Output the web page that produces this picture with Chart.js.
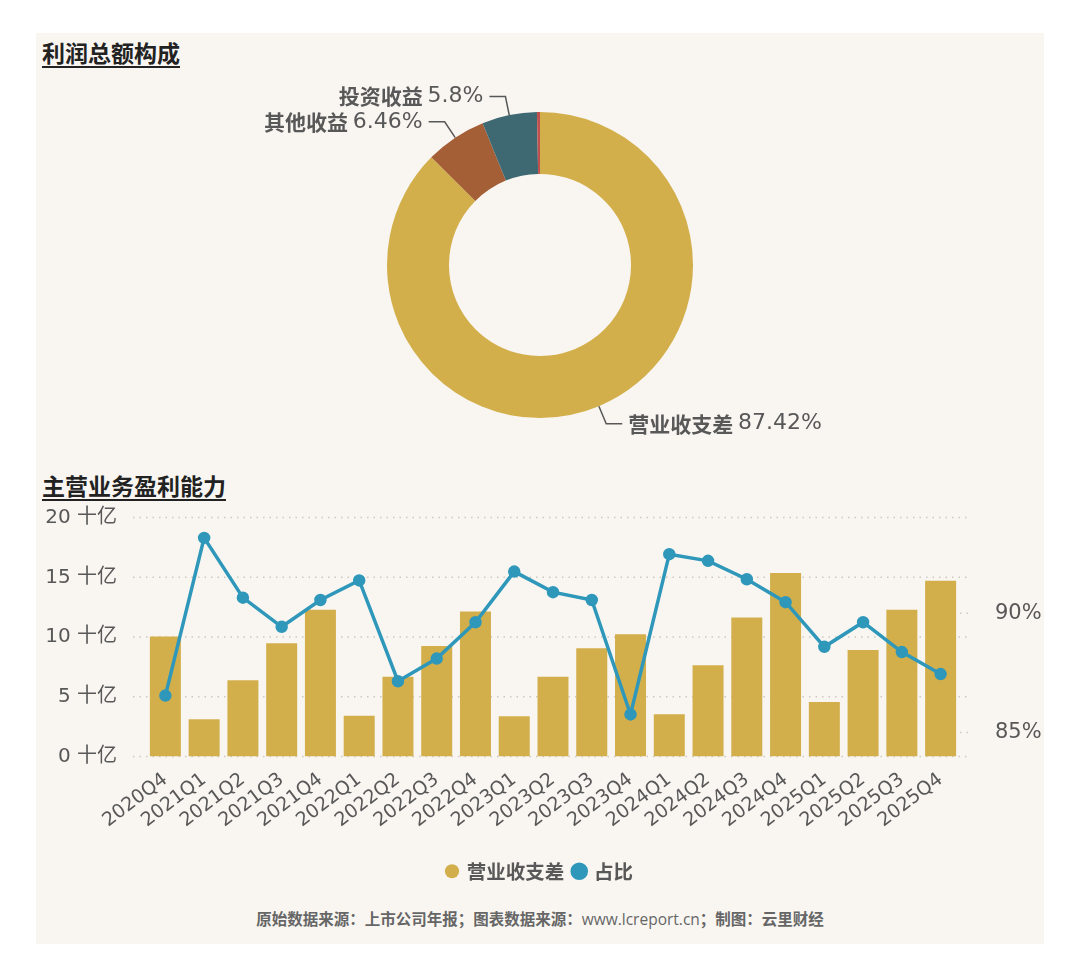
<!DOCTYPE html>
<html>
<head>
<meta charset="utf-8">
<script src="https://cdn.jsdelivr.net/npm/chart.js@4.4.1/dist/chart.umd.min.js"></script>
<style>
  body { margin: 0; background: #fff; width: 1080px; height: 978px; position: relative; overflow: hidden; }
  #panel { position: absolute; left: 36px; top: 33px; width: 1008px; height: 911px; background: #f9f6f2; }
  .title { position: absolute; left: 6px; font: bold 23px "Noto Sans CJK SC"; line-height: 30px; color: #222;
           text-decoration: underline; text-underline-offset: 4px; text-decoration-thickness: 2px; }
  canvas { position: absolute; left: 0; }
  #foot { position: absolute; left: 0; width: 1008px; top: 874px; text-align: center; line-height: 22px;
          font: bold 15.5px "Noto Sans CJK SC"; color: #666; }
  #foot span { font-weight: normal; font-family: "Open Sans", sans-serif; }
</style>
</head>
<body>
<div id="panel">
  <div class="title" style="top:4px">利润总额构成</div>
  <canvas id="pie" width="1008" height="390" style="top:37px"></canvas>
  <div class="title" style="top:437px">主营业务盈利能力</div>
  <canvas id="combo" width="1008" height="413" style="top:445px"></canvas>
  <div id="foot">原始数据来源：上市公司年报；图表数据来源：<span>www.lcreport.cn</span>；制图：云里财经</div>
</div>
<script>
// 利润总额构成 (%)
const shareNames = ["营业收支差", "其他收益", "投资收益", "其他"];
const shareValues = [87.42, 6.46, 5.8, 0.32];
const shareColors = ["#d3af4c", "#a45f36", "#3e6872", "#c0504d"];

// 主营业务盈利能力
const quarters = ["2020Q4", "2021Q1", "2021Q2", "2021Q3", "2021Q4", "2022Q1", "2022Q2",
  "2022Q3", "2022Q4", "2023Q1", "2023Q2", "2023Q3", "2023Q4", "2024Q1", "2024Q2",
  "2024Q3", "2024Q4", "2025Q1", "2025Q2", "2025Q3", "2025Q4"];
const revenueGap = [10.04, 3.11, 6.39, 9.48, 12.28, 3.42, 6.67, 9.26, 12.14, 3.37, 6.67,
  9.06, 10.24, 3.53, 7.63, 11.64, 15.37, 4.57, 8.92, 12.28, 14.72]; // 十亿
const gapRatio = [86.55, 93.15, 90.65, 89.43, 90.55, 91.37, 87.15, 88.1, 89.62, 91.74, 90.88,
  90.55, 85.76, 92.47, 92.19, 91.42, 90.46, 88.59, 89.62, 88.37, 87.45]; // %
const gapTicks = [0, 5, 10, 15, 20];
const ratioTicks = [85, 90];

const FONT = '"DejaVu Sans", "Noto Sans CJK SC", sans-serif';
const TEXT = "#585858";
Chart.defaults.font.family = FONT;
Chart.defaults.color = TEXT;

// leader-line labels around the doughnut
const pieLabels = {
  id: "pieLabels",
  afterDatasetsDraw(chart) {
    const ctx = chart.ctx;
    chart.getDatasetMeta(0).data.forEach((arc, i) => {
      if (shareValues[i] < 1) return;
      const p = arc.getProps(["x", "y", "startAngle", "endAngle", "outerRadius"]);
      const a = (p.startAngle + p.endAngle) / 2;
      const c = Math.cos(a), s = Math.sin(a);
      const x0 = p.x + c * p.outerRadius, y0 = p.y + s * p.outerRadius;
      const x1 = p.x + c * (p.outerRadius + 19), y1 = p.y + s * (p.outerRadius + 19);
      const dir = c >= 0 ? 1 : -1;
      const x2 = x1 + dir * 16;
      ctx.save();
      ctx.strokeStyle = TEXT;
      ctx.lineWidth = 1.5;
      ctx.beginPath();
      ctx.moveTo(x0, y0);
      ctx.lineTo(x1, y1);
      ctx.lineTo(x2, y1);
      ctx.stroke();
      ctx.fillStyle = TEXT;
      ctx.textBaseline = "middle";
      const name = shareNames[i] + " ";
      const val = shareValues[i] + "%";
      const nameFont = 'bold 21px "Noto Sans CJK SC"';
      const valFont = "22px " + FONT;
      ctx.font = nameFont;
      const wName = ctx.measureText(name).width;
      ctx.font = valFont;
      const wVal = ctx.measureText(val).width;
      const start = dir > 0 ? x2 + 6 : x2 - 6 - wName - wVal;
      ctx.textAlign = "left";
      ctx.font = nameFont;
      ctx.fillText(name, start, y1);
      ctx.font = valFont;
      ctx.fillText(val, start + wName, y1);
      ctx.restore();
    });
  }
};

new Chart(document.getElementById("pie"), {
  type: "doughnut",
  data: {
    labels: shareNames,
    datasets: [{ data: shareValues, backgroundColor: shareColors, borderWidth: 0 }]
  },
  options: {
    responsive: false,
    animation: false,
    cutout: "59.5%",
    layout: { padding: { top: 42, bottom: 42 } },
    plugins: { legend: { display: false }, tooltip: { enabled: false } }
  },
  plugins: [pieLabels]
});

// dotted grid that runs a little past the plot area
const dottedGrid = {
  id: "dottedGrid",
  beforeDatasetsDraw(chart) {
    const { ctx, chartArea: a, scales } = chart;
    ctx.save();
    ctx.strokeStyle = "#cdc8c0";
    ctx.lineWidth = 1.5;
    ctx.setLineDash([1.5, 5]);
    const line = (x0, x1, y) => { ctx.beginPath(); ctx.moveTo(x0, y); ctx.lineTo(x1, y); ctx.stroke(); };
    scales.y.ticks.forEach(t => line(a.left - 13, a.right + 11, scales.y.getPixelForValue(t.value)));
    scales.y1.ticks.forEach(t => line(a.right, a.right + 11, scales.y1.getPixelForValue(t.value)));
    ctx.restore();
  }
};

new Chart(document.getElementById("combo"), {
  type: "bar",
  data: {
    labels: quarters,
    datasets: [
      {
        type: "bar",
        label: "营业收支差",
        data: revenueGap,
        yAxisID: "y",
        backgroundColor: "#d3af4c",
        categoryPercentage: 1,
        barPercentage: 0.8,
        order: 1
      },
      {
        type: "line",
        label: "占比",
        data: gapRatio,
        yAxisID: "y1",
        borderColor: "#2f98ba",
        backgroundColor: "#2f98ba",
        borderWidth: 3.5,
        pointRadius: 4.5,
        tension: 0,
        order: 0
      }
    ]
  },
  options: {
    responsive: false,
    animation: false,
    layout: { padding: 0 },
    scales: {
      x: {
        grid: { display: false },
        border: { display: false },
        ticks: { autoSkip: false, minRotation: 37, maxRotation: 37, padding: 4, font: { size: 19 } },
        afterFit(s) { s.height = 95; }
      },
      y: {
        position: "left",
        min: 0,
        max: 20,
        afterBuildTicks(s) { s.ticks = gapTicks.map(v => ({ value: v })); },
        grid: { display: false },
        border: { display: false },
        ticks: { padding: 21, font: { size: 20 }, callback: v => v + " 十亿" },
        afterFit(s) { s.width = 110; }
      },
      y1: {
        position: "right",
        min: 84,
        max: 94,
        afterBuildTicks(s) { s.ticks = ratioTicks.map(v => ({ value: v })); },
        grid: { display: false },
        border: { display: false },
        ticks: { padding: 27, font: { size: 21 }, callback: v => v + "%" },
        afterFit(s) { s.width = 84; }
      }
    },
    plugins: {
      tooltip: { enabled: false },
      legend: {
        position: "bottom",
        labels: {
          usePointStyle: true,
          boxWidth: 10,
          boxHeight: 10,
          padding: 10,
          color: TEXT,
          font: { size: 19.5, weight: "bold", family: '"Noto Sans CJK SC"' },
          sort: (a, b) => a.datasetIndex - b.datasetIndex
        }
      }
    }
  },
  plugins: [dottedGrid]
});
</script>
</body>
</html>
